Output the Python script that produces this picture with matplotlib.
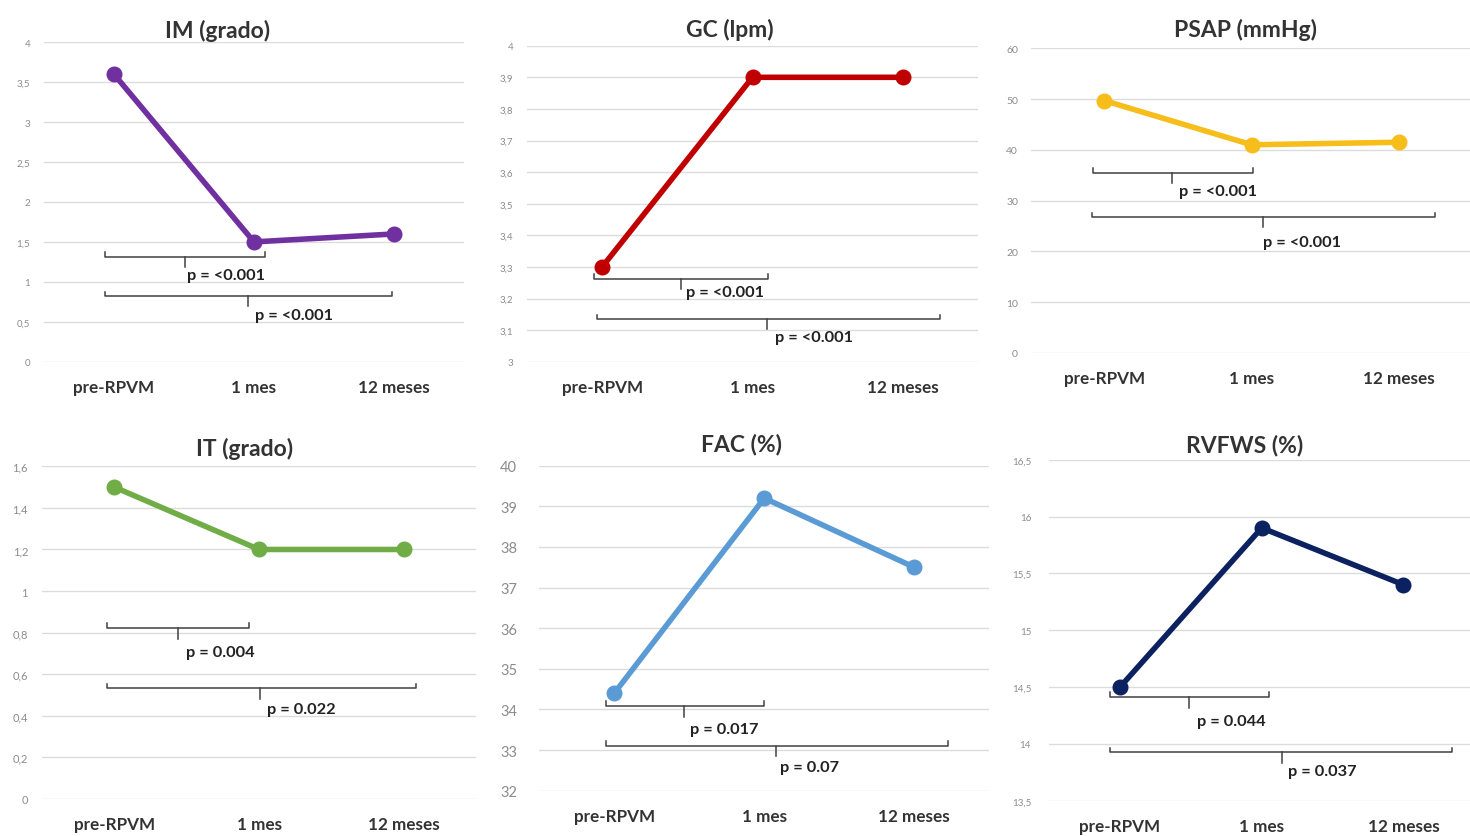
import matplotlib
matplotlib.use("Agg")
import matplotlib.pyplot as plt

plt.rcParams['font.family'] = ['Lato', 'DejaVu Sans']

W, H = 1470, 837

categorias = ["pre-RPVM", "1 mes", "12 meses"]

titulos = ["IM (grado)", "GC (lpm)", "PSAP (mmHg)", "IT (grado)", "FAC (%)", "RVFWS (%)"]

im_vals = [3.6, 1.5, 1.6]
gc_vals = [3.3, 3.9, 3.9]
psap_vals = [49.7, 41.0, 41.5]
it_vals = [1.5, 1.2, 1.2]
fac_vals = [34.4, 39.2, 37.5]
rvfws_vals = [14.5, 15.9, 15.4]

im_ticks = [0, 0.5, 1, 1.5, 2, 2.5, 3, 3.5, 4]
gc_ticks = [3, 3.1, 3.2, 3.3, 3.4, 3.5, 3.6, 3.7, 3.8, 3.9, 4]
psap_ticks = [0, 10, 20, 30, 40, 50, 60]
it_ticks = [0, 0.2, 0.4, 0.6, 0.8, 1, 1.2, 1.4, 1.6]
fac_ticks = [32, 33, 34, 35, 36, 37, 38, 39, 40]
rvfws_ticks = [13.5, 14, 14.5, 15, 15.5, 16, 16.5]

p_im = ["p = <0.001", "p = <0.001"]
p_gc = ["p = <0.001", "p = <0.001"]
p_psap = ["p = <0.001", "p = <0.001"]
p_it = ["p = 0.004", "p = 0.022"]
p_fac = ["p = 0.017", "p = 0.07"]
p_rvfws = ["p = 0.044", "p = 0.037"]

colores = ["#7030A0", "#C00000", "#F7BD1B", "#70AD47", "#5B9BD5", "#0B2160"]

# layout of each panel in pixels: x0, x1, ytop, ybot, ytick pad, ytick size, title pos
paneles = [
    (44, 464, 43.3, 362.7, 10, 7, (218, 31)),
    (527, 978, 46.7, 362.7, 10, 7, (730, 30)),
    (1030.6, 1472.6, 49.3, 354, 9, 7.5, (1246, 30)),
    (41.9, 476.3, 467.3, 800, 10, 8, (245, 449)),
    (539.3, 989.3, 466.7, 791.7, 16, 10.5, (741, 445)),
    (1049.2, 1474.3, 460.7, 801.7, 13, 7, (1245, 446)),
]

datos = [im_vals, gc_vals, psap_vals, it_vals, fac_vals, rvfws_vals]
ticks = [im_ticks, gc_ticks, psap_ticks, it_ticks, fac_ticks, rvfws_ticks]
pvals = [p_im, p_gc, p_psap, p_it, p_fac, p_rvfws]

# brackets: (x_start, x_end, y, x_mid, text_x, text_y) in data units
brackets = [
    [(-0.064, 1.079, 1.311, 0.507, 0.52, 1.086), (-0.064, 1.986, 0.823, 0.957, 1.007, 0.585)],
    [(-0.053, 1.104, 3.262, 0.524, 0.559, 3.221), (-0.033, 2.249, 3.135, 1.098, 1.151, 3.078)],
    [(-0.079, 1.007, 35.45, 0.46, 0.507, 31.96), (-0.086, 2.245, 26.72, 1.077, 1.077, 21.86)],
    [(-0.048, 0.932, 0.821, 0.438, 0.493, 0.706), (-0.052, 2.084, 0.532, 1.006, 1.052, 0.433)],
    [(-0.057, 0.998, 34.077, 0.465, 0.505, 33.52), (-0.057, 2.223, 33.11, 1.076, 1.105, 32.58)],
    [(-0.071, 1.054, 14.41, 0.489, 0.541, 14.204), (-0.071, 2.341, 13.926, 1.141, 1.188, 13.764)],
]

fig = plt.figure(figsize=(W / 100, H / 100), dpi=100)
fig.patch.set_facecolor("white")

x = list(range(len(categorias)))

for i in range(6):
    x0, x1, yt, yb, pad, tsize, tpos = paneles[i]
    ax = fig.add_axes([x0 / W, 1 - yb / H, (x1 - x0) / W, (yb - yt) / H])
    tk = ticks[i]
    ax.set_xlim(-0.5, 2.5)
    ax.set_ylim(tk[0], tk[-1])
    for s in ax.spines.values():
        s.set_visible(False)
    ax.set_yticks(tk)
    ax.set_yticklabels([("%g" % t).replace(".", ",") for t in tk])
    ax.tick_params(axis="y", length=0, pad=pad, labelsize=tsize, labelcolor="#8C8C8C")
    ax.set_xticks(x)
    ax.set_xticklabels(categorias, fontweight="bold")
    ax.tick_params(axis="x", length=0, pad=12.5, labelsize=12.3, labelcolor="#333333")
    ax.grid(axis="y", color="#DCDCDC", lw=1)
    ax.set_axisbelow(True)

    ax.plot(x, datos[i], color=colores[i], lw=4, marker="o", ms=10.5,
            solid_capstyle="round", clip_on=False, zorder=3)

    dy = tk[-1] - tk[0]
    for k, (xa, xb, yy, xm, tx, ty) in enumerate(brackets[i]):
        end = 0.016 * dy if k == 0 else 0.014 * dy
        tick = 0.032 * dy
        ax.plot([xa, xa, xb, xb], [yy + end, yy, yy, yy + end], color="#404040", lw=1.1, zorder=2)
        ax.plot([xm, xm], [yy, yy - tick], color="#404040", lw=1.1, zorder=2)
        ax.text(tx, ty, pvals[i][k], ha="left", va="center", fontsize=11.8,
                fontweight="bold", color="#222222")

    fig.text(tpos[0] / W, 1 - tpos[1] / H, titulos[i], ha="center", va="center",
             fontsize=16.5, fontweight="bold", color="#333333")

fig.savefig("out.png", dpi=100, facecolor="white")
